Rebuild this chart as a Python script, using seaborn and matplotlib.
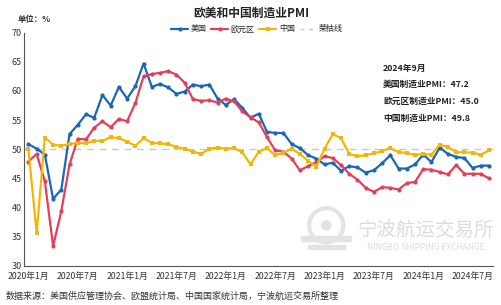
import numpy as np
import pandas as pd
import matplotlib
matplotlib.use("Agg")
import matplotlib.pyplot as plt
import seaborn as sns
from matplotlib.lines import Line2D
from matplotlib.patches import Circle, Rectangle

months = pd.period_range("2020-01", "2024-09", freq="M")
month_labels = [f"{p.year}年{p.month}月" for p in months]

us_pmi = [50.9, 50.1, 49.1, 41.5, 43.1, 52.6, 54.2, 56.0, 55.4, 59.3, 57.5, 60.7,
          58.7, 60.8, 64.7, 60.7, 61.2, 60.6, 59.5, 59.9, 61.1, 60.8, 61.1, 58.7,
          57.6, 58.6, 57.1, 55.4, 56.1, 53.0, 52.8, 52.8, 50.9, 50.2, 49.0, 48.4,
          47.4, 47.7, 46.3, 47.1, 46.9, 46.0, 46.4, 47.6, 49.0, 46.7, 46.7, 47.4,
          49.1, 47.8, 50.3, 49.2, 48.7, 48.5, 46.8, 47.2, 47.2]
eu_pmi = [47.9, 49.2, 44.5, 33.4, 39.4, 47.4, 51.8, 51.7, 53.7, 54.8, 53.8, 55.2,
          54.8, 57.9, 62.5, 62.9, 63.1, 63.4, 62.8, 61.4, 58.6, 58.3, 58.4, 58.0,
          58.7, 58.2, 56.5, 55.5, 54.6, 52.1, 49.8, 49.6, 48.4, 46.4, 47.1, 47.8,
          48.8, 48.5, 47.3, 45.8, 44.8, 43.4, 42.7, 43.5, 43.4, 43.1, 44.2, 44.4,
          46.6, 46.5, 46.1, 45.7, 47.3, 45.8, 45.8, 45.8, 45.0]
cn_pmi = [50.0, 35.7, 52.0, 50.8, 50.6, 50.9, 51.1, 51.0, 51.5, 51.4, 52.1, 51.9,
          51.3, 50.6, 51.9, 51.1, 51.0, 50.9, 50.4, 50.1, 49.6, 49.2, 50.1, 50.3,
          50.1, 50.2, 49.5, 47.4, 49.6, 50.2, 49.0, 49.4, 50.1, 49.2, 48.0, 47.0,
          50.1, 52.6, 51.9, 49.2, 48.8, 49.0, 49.3, 49.7, 50.2, 49.5, 49.4, 49.0,
          49.2, 49.1, 50.8, 50.4, 49.5, 49.5, 49.4, 49.1, 49.8]
series_names = ["美国", "欧元区", "中国"]
boom_bust = 50
y_ticks = [30, 35, 40, 45, 50, 55, 60, 65, 70]
notes = ["2024年9月", "美国制造业PMI：47.2", "欧元区制造业PMI：45.0", "中国制造业PMI：49.8"]

sns.set_theme(style="white")
plt.rcParams["font.family"] = ["Noto Sans CJK SC", "DejaVu Sans"]
plt.rcParams["axes.unicode_minus"] = False

df = pd.DataFrame({"idx": np.arange(len(months)), "美国": us_pmi, "欧元区": eu_pmi, "中国": cn_pmi})
long = df.melt(id_vars="idx", var_name="series", value_name="pmi")

colors = {"美国": "#1c66b5", "欧元区": "#e2405a", "中国": "#f2b705"}
markers = {"美国": "o", "欧元区": "o", "中国": "s"}
fig = plt.figure(figsize=(5.02, 3.05), dpi=100)

# watermark (drawn first, behind the plot)
wax = fig.add_axes([0.595, 0.16, 0.11, 0.18])
wax.set_xlim(-1.2, 1.2)
wax.set_ylim(-1.2, 1.2)
wax.set_aspect("equal")
wax.axis("off")
wax.add_patch(Circle((0, 0.15), 0.75, fill=False, ec="#e3e3e3", lw=3))
wax.add_patch(Circle((0, 0.15), 0.2, color="#e3e3e3"))
wax.add_patch(Rectangle((-1.1, -0.55), 2.2, 0.22, color="#e3e3e3"))
wax.add_patch(Rectangle((-0.8, -0.9), 1.6, 0.2, color="#e3e3e3"))
fig.text(0.849, 0.243, "宁波航运交易所", ha="center", va="center", fontsize=14, color="#dcdcdc", zorder=0)
fig.text(0.849, 0.19, "NINGBO SHIPPING EXCHANGE", ha="center", va="center", fontsize=6, color="#dcdcdc", zorder=0)

ax = fig.add_axes([0.0484, 0.128, 0.934, 0.765])
ax.patch.set_alpha(0)

ax.axhline(boom_bust, color="#c9c9c9", lw=1.0, ls=(0, (5, 4)), zorder=1)
for name in series_names:
    sub = long[long.series == name]
    sns.lineplot(data=sub, x="idx", y="pmi", ax=ax, color=colors[name], lw=1.6,
                 marker=markers[name], markersize=3, markeredgewidth=0, legend=False, zorder=3)

ax.set_xlim(-0.5, len(months) - 0.5)
ax.set_ylim(30, 70)
ax.set_yticks(y_ticks)
ax.set_yticklabels([str(v) for v in y_ticks], fontsize=6.5, color="#333333")
lab_idx = list(range(0, len(months), 6))
ax.set_xticks(lab_idx)
ax.set_xticklabels([month_labels[i] for i in lab_idx], fontsize=6.3, color="#333333")
ax.set_xticks([i - 0.5 for i in lab_idx] + [len(months) - 0.5], minor=True)
ax.tick_params(axis="x", which="major", length=0, pad=4)
ax.tick_params(axis="x", which="minor", length=3, color="#666666", width=0.8)
ax.tick_params(axis="y", length=0, pad=2)
ax.set_xlabel("")
ax.set_ylabel("")
for s in ["top", "right"]:
    ax.spines[s].set_visible(False)
for s in ["left", "bottom"]:
    ax.spines[s].set_color("#555555")
    ax.spines[s].set_linewidth(0.8)

handles = [Line2D([], [], color=colors[n], lw=1.6, marker=markers[n], markersize=3, markeredgewidth=0) for n in series_names]
handles.append(Line2D([], [], color="#c9c9c9", lw=1.0, ls=(0, (3, 3))))
fig.legend(handles, series_names + ["荣枯线"], loc="center", bbox_to_anchor=(0.512, 0.905),
           ncol=4, frameon=False, fontsize=5.8, handlelength=2.1, handletextpad=0.3,
           columnspacing=0.6)

fig.text(0.5, 0.955, "欧美和中国制造业PMI", ha="center", va="center", fontsize=8.5, fontweight="bold", color="#222222")
fig.text(0.036, 0.935, "单位：%", ha="left", va="center", fontsize=6, fontweight="bold", color="#333333")

ys = [0.775, 0.724, 0.668, 0.612]
for t, y in zip(notes, ys):
    fig.text(0.763, y, t, ha="left", va="center", fontsize=6.3, fontweight="bold", color="#222222")

fig.text(0.012, 0.03, "数据来源：美国供应管理协会、欧盟统计局、中国国家统计局，宁波航运交易所整理",
         ha="left", va="center", fontsize=6.5, color="#333333")

fig.savefig("out.png", dpi=100)
